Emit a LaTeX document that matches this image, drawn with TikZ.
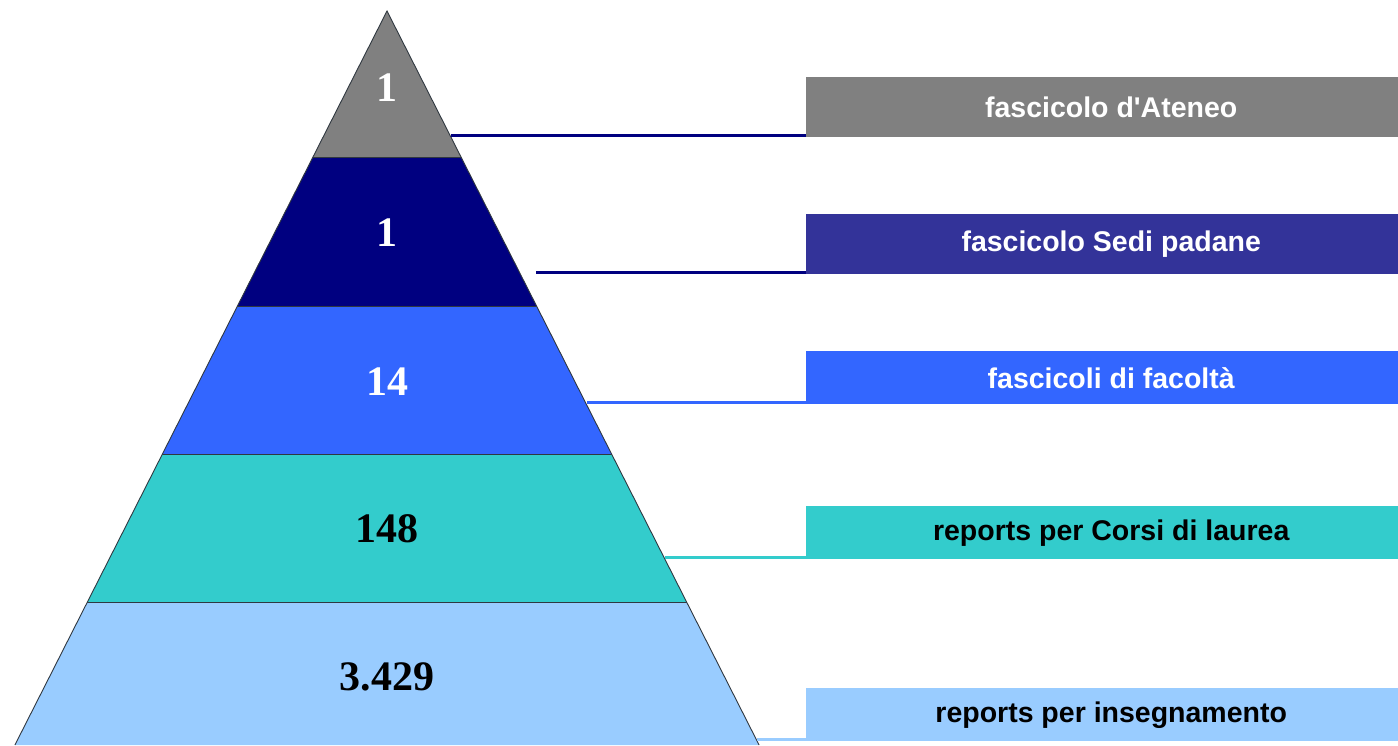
\documentclass[tikz,border=0pt]{standalone}
\usepackage{fontspec}
\setmainfont{Liberation Serif}
\setsansfont{Liberation Sans}
\definecolor{cgray}{HTML}{808080}
\definecolor{cnavy}{HTML}{000080}
\definecolor{cindigo}{HTML}{333399}
\definecolor{cblue}{HTML}{3366FF}
\definecolor{cteal}{HTML}{33CCCC}
\definecolor{clight}{HTML}{99CCFF}
\definecolor{cedge}{HTML}{303840}
\tikzset{
  band/.style={draw=cedge, line width=0.9pt, line join=miter},
  num/.style={font=\fontsize{42}{42}\selectfont\bfseries, inner sep=0pt},
  labbox/.style={minimum width=610pt, minimum height=#1, inner sep=0pt,
    font=\sffamily\bfseries\fontsize{28.5}{30}\selectfont, anchor=north west},
  conn/.style={line width=3pt}
}
\begin{document}
\begin{tikzpicture}[x=1pt,y=-1pt]
\useasboundingbox (0,0) rectangle (1398,745);
% pyramid bands
\fill[cgray] (387,11) -- (461,157) -- (313,157) -- cycle;
\fill[cnavy] (313,157) -- (461,157) -- (536.6,306) -- (237.4,306) -- cycle;
\fill[cblue] (237.4,306) -- (536.6,306) -- (611.6,454) -- (162.4,454) -- cycle;
\fill[cteal] (162.4,454) -- (611.6,454) -- (686.6,602) -- (87.4,602) -- cycle;
\fill[clight] (87.4,602) -- (686.6,602) -- (759.1,745) -- (14.9,745) -- cycle;
\draw[band] (14.9,745) -- (387,11) -- (759.1,745);
\draw[band] (313,157) -- (461,157);
\draw[band] (237.4,306) -- (536.6,306);
\draw[band] (162.4,454) -- (611.6,454);
\draw[band] (87.4,602) -- (686.6,602);
% numbers
\node[num, text=white] (n1) at (387,88) {1};
\node[num, text=white] (n2) at (387,233) {1};
\node[num, text=white] (n3) at (387,382) {14};
\node[num, text=black] (n4) at (387,529) {148};
\node[num, text=black] (n5) at (387,677) {3.429};
% label boxes
\node[labbox=60pt, fill=cgray, text=white] (b1) at (806,77) {fascicolo d\textquotesingle Ateneo};
\node[labbox=60pt, fill=cindigo, text=white] (b2) at (806,214) {fascicolo Sedi padane};
\node[labbox=53pt, fill=cblue, text=white] (b3) at (806,351) {fascicoli di facoltà};
\node[labbox=53pt, fill=cteal, text=black] (b4) at (806,506) {reports per Corsi di laurea};
\node[labbox=53pt, fill=clight, text=black] (b5) at (806,688) {reports per insegnamento};
% connector start points
\coordinate (c1) at (451,135.5);
\coordinate (c2) at (536,272);
\coordinate (c3) at (587,402.5);
\coordinate (c4) at (665,557.5);
\coordinate (c5) at (757,739.5);
\draw[conn, cnavy] (c1) -- (c1 -| b1.west);
\draw[conn, cnavy] (c2) -- (c2 -| b2.west);
\draw[conn, cblue] (c3) -- (c3 -| b3.west);
\draw[conn, cteal] (c4) -- (c4 -| b4.west);
\draw[conn, clight] (c5) -- (c5 -| b5.west);
\end{tikzpicture}
\end{document}
